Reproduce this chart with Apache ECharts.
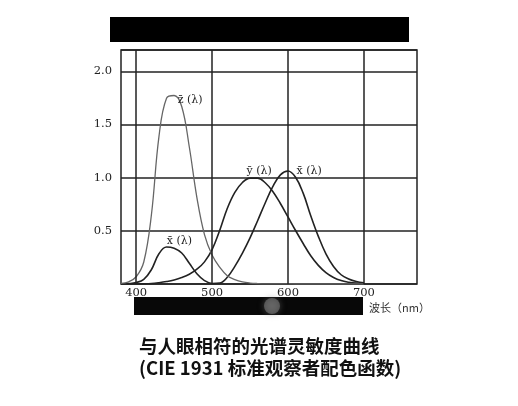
<!DOCTYPE html>
<html>
<head>
<meta charset="UTF-8">
<title>CIE 1931</title>
<style>
html, body { margin: 0; padding: 0; background: #fff; }
#main { width: 518px; height: 406px; }
</style>
</head>
<body>
<div id="main"></div>
<script src="https://cdn.jsdelivr.net/npm/echarts@6/dist/echarts.min.js"></script>
<script>
// wavelength (nm) and the three curves
var lambda = [380, 390, 400, 410, 420, 430, 440, 450, 460, 470, 480, 490, 500, 510, 520, 530, 540, 550,
	560, 570, 580, 590, 600, 610, 620, 630, 640, 650, 660, 670, 680, 690, 700];
var xBar = [0.001, 0.004, 0.014, 0.044, 0.134, 0.284, 0.348, 0.336, 0.291, 0.195, 0.096, 0.032, 0.005, 0.009, 0.063, 0.166, 0.290, 0.433,
	0.595, 0.762, 0.916, 1.026, 1.062, 1.003, 0.854, 0.642, 0.448, 0.284, 0.165, 0.087, 0.047, 0.023, 0.011];
var yBar = [0.000, 0.000, 0.000, 0.001, 0.004, 0.012, 0.023, 0.038, 0.060, 0.091, 0.139, 0.208, 0.323, 0.503, 0.710, 0.862, 0.954, 0.995,
	0.995, 0.952, 0.870, 0.757, 0.631, 0.503, 0.381, 0.265, 0.175, 0.107, 0.061, 0.032, 0.017, 0.008, 0.004];
var zBar = [0.006, 0.020, 0.068, 0.207, 0.646, 1.386, 1.747, 1.772, 1.669, 1.288, 0.813, 0.465, 0.272, 0.158, 0.078, 0.042, 0.020, 0.009,
	0.004, 0.002, 0.002, 0.001, 0.001, 0.000, 0.000, 0.000, 0.000, 0.000, 0.000, 0.000, 0.000, 0.000, 0.000];
var xTicks = [400, 500, 600, 700];
var yTicks = [0.5, 1.0, 1.5, 2.0];

function pairs(ys) {
	var out = [];
	for (var i = 0; i < lambda.length; i++) out.push([lambda[i], ys[i]]);
	return out;
}

var lblStyle = { fontFamily: 'DejaVu Serif', fontSize: 11, color: '#222' };
function tag(text, coord) {
	return {
		coord: coord, symbolSize: 0,
		label: Object.assign({ show: true, position: 'inside', formatter: text }, lblStyle)
	};
}

var gridLines = [];
xTicks.forEach(function (v) { gridLines.push({ xAxis: v }); });

var myChart = echarts.init(document.getElementById('main'));
var option = {
	backgroundColor: '#fff',
	animation: false,
	grid: {
		left: 121, top: 50, right: 101, bottom: 122,
		show: true, borderColor: '#222', borderWidth: 1.5
	},
	xAxis: {
		type: 'value', min: 380, max: 770,
		axisLine: { show: false },
		axisTick: { show: false },
		splitLine: { show: false },
		axisLabel: {
			customValues: xTicks, margin: 3,
			fontFamily: 'DejaVu Serif', fontSize: 11.5, color: '#222'
		}
	},
	yAxis: {
		type: 'value', min: 0, max: 2.2, interval: 0.5,
		axisLine: { show: false },
		axisTick: { show: false },
		splitLine: { show: true, lineStyle: { color: '#222', width: 1.5 } },
		axisLabel: {
			margin: 9, fontFamily: 'DejaVu Serif', fontSize: 11.5, color: '#222',
			formatter: function (v) {
				return yTicks.indexOf(Math.round(v * 10) / 10) >= 0 && Math.abs(v * 2 - Math.round(v * 2)) < 1e-6 ? v.toFixed(1) : '';
			}
		}
	},
	series: [{
		name: 'x', type: 'line', data: pairs(xBar), smooth: 0.4, symbol: 'none',
		lineStyle: { color: '#222', width: 1.6 },
		markLine: {
			silent: true, symbol: 'none', label: { show: false },
			lineStyle: { color: '#222', width: 1.5, type: 'solid' },
			data: gridLines
		},
		markPoint: { data: [tag('x\u0304 (λ)', [457, 0.40]), tag('x\u0304 (λ)', [628, 1.06])] }
	}, {
		name: 'y', type: 'line', data: pairs(yBar), smooth: 0.4, symbol: 'none',
		lineStyle: { color: '#222', width: 1.6 },
		markPoint: { data: [tag('y\u0304 (λ)', [562, 1.06])] }
	}, {
		name: 'z', type: 'line', data: pairs(zBar), smooth: 0.4, symbol: 'none',
		lineStyle: { color: '#666', width: 1.3 },
		markPoint: { data: [tag('z\u0304 (λ)', [471, 1.73])] }
	}],
	graphic: [
		{ type: 'rect', shape: { x: 110, y: 17, width: 299, height: 25 }, style: { fill: '#000' } },
		{ type: 'rect', shape: { x: 134, y: 297, width: 229, height: 18 }, style: { fill: '#080808' } },
		{ type: 'circle', shape: { cx: 272, cy: 306, r: 8 }, style: { fill: 'rgba(140,140,140,0.5)', shadowBlur: 6, shadowColor: '#777' } },
		{ type: 'text', left: 369, top: 302, style: { text: '波长（nm）', fontFamily: 'Noto Sans CJK SC', fontSize: 11, fill: '#333' } },
		{ type: 'text', left: 139, top: 337, style: { text: '与人眼相符的光谱灵敏度曲线', fontFamily: 'Noto Sans CJK SC', fontWeight: 'bold', fontSize: 18.5, fill: '#111' } },
		{ type: 'text', left: 139, top: 359, style: { text: '(CIE 1931 标准观察者配色函数)', fontFamily: 'Noto Sans CJK SC', fontWeight: 'bold', fontSize: 18.5, fill: '#111' } }
	]
};
myChart.setOption(option);
</script>
</body>
</html>
